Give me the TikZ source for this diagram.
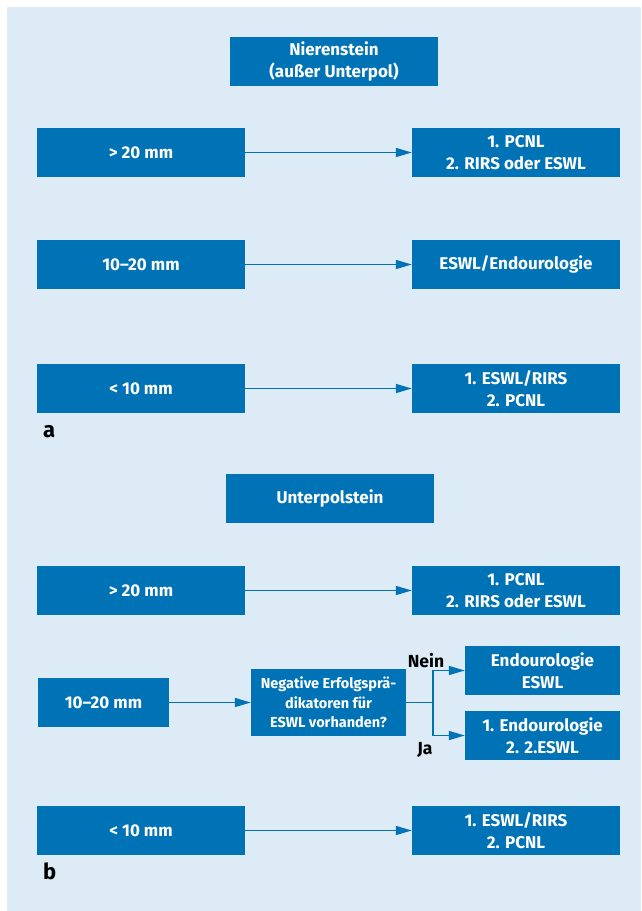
\documentclass[tikz,border=0pt]{standalone}
\usepackage{fontspec}
\setmainfont{Fira Sans}
\usetikzlibrary{arrows.meta}
\definecolor{boxblue}{RGB}{0,114,182}
\definecolor{panelbg}{RGB}{221,235,247}
\begin{document}
\begin{tikzpicture}[x=1pt,y=-1pt,
  box/.style={fill=boxblue, text=white, align=center, inner sep=0pt,
    font=\fontsize{17}{22}\selectfont\bfseries,
    minimum width=208pt, minimum height=49pt},
  smallbox/.style={box, minimum width=131pt},
  choicebox/.style={box, minimum width=155pt},
  askbox/.style={box, minimum width=155pt, minimum height=67pt,
    font=\fontsize{14.5}{19.5}\selectfont\bfseries},
  flow/.style={draw=boxblue, line width=1.5pt, -{Triangle[length=16pt,width=9pt]}},
  link/.style={draw=boxblue, line width=1.5pt},
  branchlabel/.style={font=\fontsize{17.5}{20}\selectfont\bfseries, inner sep=0pt, anchor=base},
  panellabel/.style={font=\fontsize{22}{24}\selectfont\bfseries, inner sep=0pt, anchor=base west}
]
\useasboundingbox (0,0) rectangle (641,911);
\fill[panelbg] (7,7) rectangle (641,911);

% ---- panel a: kidney stone outside the lower pole
\node[box] (ta) at (334,61.5) {Nierenstein\\(außer Unterpol)};

\node[box] (a1l) at (141,152.5) {> 20 mm};
\node[box] (a1r) at (516,152.5) {1. PCNL\\2. RIRS oder ESWL};
\node[box] (a2l) at (141,264.5) {10–20 mm};
\node[box] (a2r) at (516,264.5) {ESWL/Endourologie};
\node[box] (a3l) at (141,388.5) {< 10 mm};
\node[box] (a3r) at (516,388.5) {1. ESWL/RIRS\\2. PCNL};

\draw[flow] (a1l.east) -- (a1r.west);
\draw[flow] (a2l.east) -- (a2r.west);
\draw[flow] (a3l.east) -- (a3r.west);

\node[panellabel] (la) at (43,437) {a};

% ---- panel b: lower pole stone
\node[box] (tb) at (330,498.5) {Unterpolstein};

\node[box] (b1l) at (141,590.5) {> 20 mm};
\node[box] (b1r) at (516,590.5) {1. PCNL\\2. RIRS oder ESWL};

\node[smallbox] (b2l) at (103.5,702.5) {10–20 mm};
\node[askbox] (ask) at (328.5,702.5) {Negative Erfolgsprä-\\dikatoren für\\ESWL vorhanden?};
\node[choicebox] (no) at (542.5,670.5) {Endourologie\\ESWL};
\node[choicebox] (yes) at (542.5,735.5) {1. Endourologie\\2. 2.ESWL};
\coordinate (split) at (433,702.5);

\draw[flow] (b2l.east) -- (ask.west);
\draw[link] (ask.east) -- (split);
\draw[flow] (split) |- (no.west);
\draw[flow] (split) |- (yes.west);
\node[branchlabel] (nein) at (426,667) {Nein};
\node[branchlabel] (ja) at (425,754) {Ja};

\node[box] (b3l) at (141,830.5) {< 10 mm};
\node[box] (b3r) at (516,830.5) {1. ESWL/RIRS\\2. PCNL};

\draw[flow] (b1l.east) -- (b1r.west);
\draw[flow] (b3l.east) -- (b3r.west);

\node[panellabel] (lb) at (43,879) {b};
\end{tikzpicture}
\end{document}
